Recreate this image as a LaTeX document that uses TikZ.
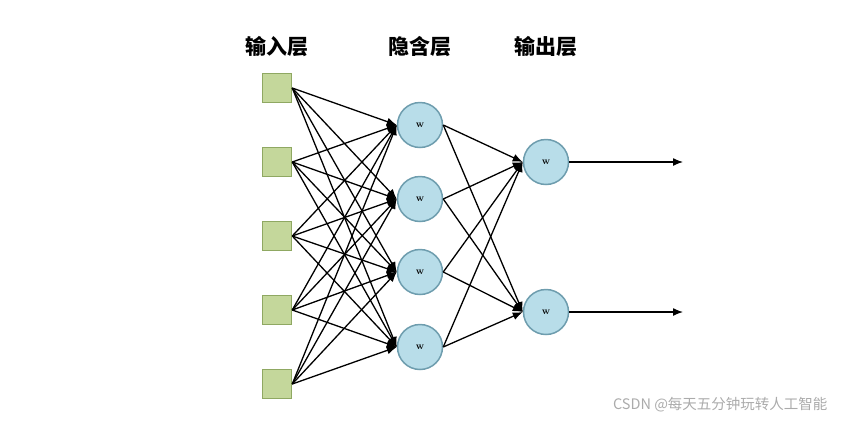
\documentclass[tikz,border=0pt]{standalone}
\usepackage{fontspec}
\newfontfamily\cjk{Noto Sans CJK SC}
\usetikzlibrary{arrows.meta}
\definecolor{sqfill}{HTML}{C4D79B}
\definecolor{sqdraw}{HTML}{8FA862}
\definecolor{cfill}{HTML}{B8DDE9}
\definecolor{cdraw}{HTML}{6E9DAE}
\begin{document}
\begin{tikzpicture}[x=1pt,y=-1pt,
  inbox/.style={draw=sqdraw,fill=sqfill,line width=1.5pt,minimum width=29pt,minimum height=29pt,inner sep=0pt},
  neuron/.style={circle,draw=cdraw,fill=cfill,line width=1.5pt,minimum size=45pt,inner sep=0pt,font=\bfseries\fontsize{10}{10}\selectfont},
  title/.style={font=\cjk\bfseries\fontsize{21}{24}\selectfont},
  conn/.style={line width=1.3pt,-{Latex[length=10pt,width=8pt]}}]
\useasboundingbox (0,0) rectangle (841,421);
\node[title] (t1) at (277,47) {输入层};
\node[title] (t2) at (420,47) {隐含层};
\node[title] (t3) at (546,47) {输出层};
\foreach \i/\y in {1/88,2/162,3/236,4/310,5/384}
  \node[inbox] (i\i) at (277,\y) {};
\foreach \i/\y in {1/125,2/199,3/272,4/347}
  \node[neuron] (h\i) at (420,\y) {w};
\foreach \i/\y in {1/162,2/312}
  \node[neuron] (o\i) at (546,\y) {w};
\coordinate (e1) at (683,162);
\coordinate (e2) at (683,312);
\foreach \i in {1,...,5}
  \foreach \j in {1,...,4}
    \draw[conn] (i\i.east) -- (h\j.west);
\foreach \j in {1,...,4}
  \foreach \k in {1,2}
    \draw[conn] (h\j.east) -- (o\k.west);
\draw[conn] (o1.east) -- (e1);
\draw[conn] (o2.east) -- (e2);
\node[font=\cjk\fontsize{14.5}{16}\selectfont,text=black!33,anchor=east] (wm) at (831,405) {CSDN @每天五分钟玩转人工智能};
\end{tikzpicture}
\end{document}
